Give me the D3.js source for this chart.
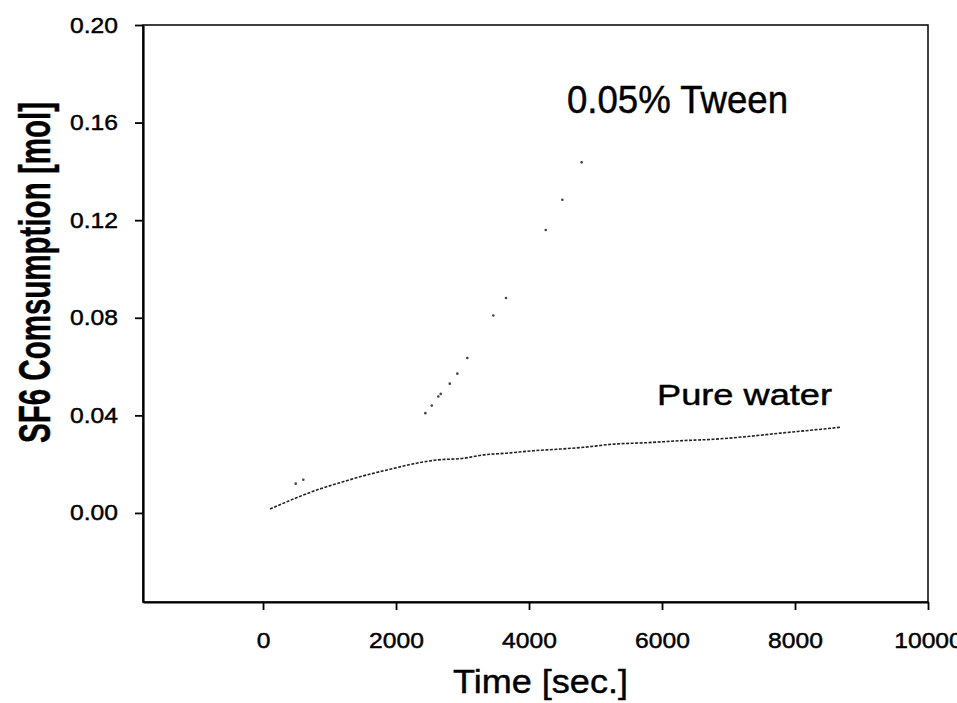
<!DOCTYPE html>
<html>
<head>
<meta charset="utf-8">
<script src="https://cdn.jsdelivr.net/npm/d3@7"></script>
<style>
  body { margin: 0; background: #fff; }
  text { font-family: "Liberation Sans", Arial, sans-serif; fill: #000; stroke: #000; stroke-width: 0.45; }
</style>
</head>
<body>
<div id="chart"></div>
<script>
// time [s] and SF6 consumption [mol]
const tweenTime = [492, 606, 2441, 2537, 2636, 2672, 2808, 2922, 3072, 3463, 3654, 4251, 4501, 4792];
const tweenMol  = [0.0120, 0.0136, 0.0409, 0.0440, 0.0477, 0.0488, 0.0530, 0.0571, 0.0635, 0.0809, 0.0881, 0.1160, 0.1284, 0.1437];

const waterTime = [105, 456, 808, 1158, 1508, 1910, 2311, 2612, 3012, 3313, 3665, 4065, 4417, 4817, 5268, 5770, 6271, 6771, 7273, 7774, 8275, 8677];
const waterMol  = [0.0016, 0.0057, 0.0094, 0.0124, 0.0152, 0.0179, 0.0204, 0.0217, 0.0224, 0.0238, 0.0245, 0.0255, 0.0261, 0.0269, 0.0282, 0.0288, 0.0296, 0.0302, 0.0313, 0.0327, 0.0340, 0.0351];

const xTicks = [0, 2000, 4000, 6000, 8000, 10000];
const yTicks = [0.00, 0.04, 0.08, 0.12, 0.16, 0.20];

const W = 957, H = 703;
const plot = {left: 143, right: 928, top: 25, bottom: 602};

const svg = d3.select("#chart").append("svg")
    .attr("width", W)
    .attr("height", H);

// scales
const x = d3.scaleLinear()
    .domain([-1805, 10000])
    .range([plot.left, plot.right]);

const y = d3.scaleLinear()
    .domain([-0.0365, 0.20])
    .range([plot.bottom, plot.top]);

// widen glyphs a bit, the scan is stretched sideways
function stretch(sel, k) {
    sel.attr("lengthAdjust", "spacingAndGlyphs")
        .attr("textLength", function() { return this.getComputedTextLength() * k; });
}

// frame
svg.append("rect")
    .attr("x", plot.left).attr("y", plot.top)
    .attr("width", plot.right - plot.left).attr("height", plot.bottom - plot.top)
    .attr("fill", "none")
    .attr("stroke", "#000")
    .attr("stroke-width", 1.5);

// axes
const xAxis = d3.axisBottom(x)
    .tickValues(xTicks)
    .tickFormat(d => d)
    .tickSize(8)
    .tickSizeOuter(0)
    .tickPadding(22);

const yAxis = d3.axisLeft(y)
    .tickValues(yTicks)
    .tickFormat(d3.format(".2f"))
    .tickSize(8)
    .tickSizeOuter(0)
    .tickPadding(17);

const gx = svg.append("g")
    .attr("transform", "translate(0," + plot.bottom + ")")
    .call(xAxis);

const gy = svg.append("g")
    .attr("transform", "translate(" + plot.left + ",0)")
    .call(yAxis);

[gx, gy].forEach(g => {
    g.select(".domain").attr("stroke", "#000").attr("stroke-width", 2.2);
    g.selectAll(".tick line").attr("stroke", "#000").attr("stroke-width", 1.8);
    g.selectAll(".tick text")
        .attr("font-size", 22)
        .attr("font-family", "Liberation Sans, Arial, sans-serif")
        .call(stretch, 1.12);
});

// pure water, a dense dotted trace
const line = d3.line()
    .x((d, i) => x(waterTime[i]))
    .y(d => y(d))
    .curve(d3.curveMonotoneX);

svg.append("path")
    .datum(waterMol)
    .attr("d", line)
    .attr("fill", "none")
    .attr("stroke", "#222")
    .attr("stroke-width", 1.6)
    .attr("stroke-dasharray", "3,1.5");

// 0.05% Tween, sparse dots
svg.selectAll(".tween")
    .data(tweenMol)
    .enter().append("circle")
    .attr("class", "tween")
    .attr("cx", (d, i) => x(tweenTime[i]))
    .attr("cy", d => y(d))
    .attr("r", 1.3)
    .attr("fill", "#444");

// labels
svg.append("text")
    .attr("x", 567).attr("y", 113)
    .attr("font-size", 38)
    .text("0.05% Tween")
    .attr("textLength", 221)
    .attr("lengthAdjust", "spacingAndGlyphs");

svg.append("text")
    .attr("x", 657).attr("y", 405)
    .attr("font-size", 30)
    .text("Pure water")
    .attr("textLength", 175)
    .attr("lengthAdjust", "spacingAndGlyphs");

svg.append("text")
    .attr("x", 453).attr("y", 693)
    .attr("font-size", 34)
    .text("Time [sec.]")
    .attr("textLength", 175)
    .attr("lengthAdjust", "spacingAndGlyphs");

svg.append("text")
    .attr("transform", "translate(50,443) rotate(-90)")
    .attr("font-size", 44)
    .attr("font-weight", "bold")
    .text("SF6 Comsumption [mol]")
    .attr("textLength", 341)
    .attr("lengthAdjust", "spacingAndGlyphs");
</script>
</body>
</html>
